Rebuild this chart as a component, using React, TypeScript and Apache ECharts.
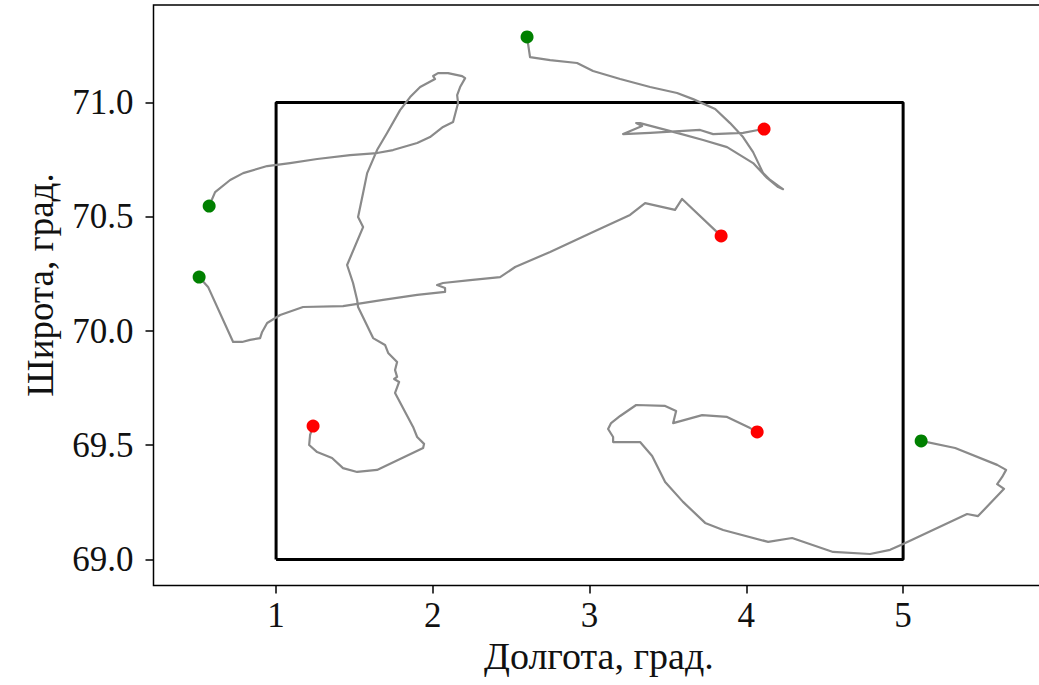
import React, { useEffect, useRef } from "react";
import * as echarts from "echarts";

// Track 1 (starts near 2.6 E, 71.29 N)
const track1Lon = [2.601, 2.620, 2.748, 2.920, 3.022, 3.195, 3.386, 3.558, 3.660, 3.801, 3.896, 3.979, 4.043, 4.107, 4.152, 4.215, 4.234, 4.203, 4.132, 4.043, 3.877, 3.724, 3.558, 3.322, 3.297, 3.335, 3.214, 3.386, 3.705, 3.788, 3.979, 4.075, 4.113];
const track1Lat = [71.287, 71.199, 71.186, 71.173, 71.138, 71.103, 71.068, 71.042, 71.015, 70.972, 70.910, 70.849, 70.783, 70.691, 70.661, 70.630, 70.621, 70.630, 70.670, 70.735, 70.805, 70.836, 70.867, 70.910, 70.910, 70.897, 70.862, 70.867, 70.880, 70.862, 70.867, 70.880, 70.884];

// Track 2 (starts near 0.57 E, 70.55 N)
const track2Lon = [0.573, 0.611, 0.707, 0.790, 0.943, 1.089, 1.262, 1.472, 1.644, 1.746, 1.900, 1.982, 2.065, 2.129, 2.161, 2.155, 2.174, 2.206, 2.187, 2.097, 2.033, 2.002, 2.014, 1.919, 1.855, 1.791, 1.708, 1.644, 1.581, 1.555, 1.523, 1.555, 1.453, 1.491, 1.517, 1.523, 1.619, 1.695, 1.715, 1.772, 1.759, 1.772, 1.753, 1.785, 1.759, 1.874, 1.900, 1.944, 1.938, 1.644, 1.517, 1.427, 1.357, 1.262, 1.211, 1.217, 1.236];
const track2Lat = [70.547, 70.608, 70.661, 70.691, 70.722, 70.735, 70.753, 70.770, 70.779, 70.792, 70.823, 70.849, 70.893, 70.915, 70.998, 71.033, 71.068, 71.107, 71.116, 71.129, 71.129, 71.116, 71.103, 71.068, 71.024, 70.967, 70.867, 70.792, 70.691, 70.604, 70.499, 70.455, 70.289, 70.210, 70.136, 70.105, 69.969, 69.939, 69.904, 69.864, 69.829, 69.799, 69.790, 69.777, 69.729, 69.580, 69.536, 69.506, 69.488, 69.392, 69.383, 69.400, 69.444, 69.470, 69.501, 69.545, 69.584];

// Track 3 (starts near 0.51 E, 70.24 N)
const track3Lon = [0.509, 0.566, 0.726, 0.783, 0.834, 0.898, 0.911, 0.943, 1.026, 1.172, 1.427, 1.683, 1.900, 2.078, 2.078, 2.027, 2.065, 2.238, 2.429, 2.525, 2.748, 3.022, 3.258, 3.354, 3.545, 3.590, 3.813, 3.839];
const track3Lat = [70.236, 70.193, 69.952, 69.952, 69.961, 69.969, 69.996, 70.035, 70.070, 70.105, 70.109, 70.136, 70.158, 70.171, 70.188, 70.201, 70.210, 70.223, 70.236, 70.280, 70.346, 70.433, 70.508, 70.560, 70.530, 70.578, 70.433, 70.416];

// Track 4 (starts near 5.12 E, 69.52 N)
const track4Lon = [5.115, 5.332, 5.600, 5.657, 5.632, 5.600, 5.644, 5.478, 5.408, 5.000, 4.917, 4.789, 4.553, 4.292, 4.139, 3.852, 3.737, 3.596, 3.482, 3.399, 3.322, 3.150, 3.150, 3.118, 3.137, 3.195, 3.297, 3.482, 3.552, 3.533, 3.718, 3.877, 4.024, 4.069];
const track4Lat = [69.519, 69.488, 69.414, 69.392, 69.361, 69.330, 69.309, 69.190, 69.199, 69.068, 69.042, 69.024, 69.033, 69.094, 69.077, 69.129, 69.160, 69.252, 69.339, 69.453, 69.514, 69.514, 69.536, 69.571, 69.597, 69.628, 69.676, 69.672, 69.650, 69.597, 69.632, 69.624, 69.575, 69.558];

// Study area rectangle
const rectLon = [1, 5, 5, 1, 1];
const rectLat = [69, 69, 71, 71, 69];

const xTicks = [1, 2, 3, 4, 5];
const yTicks = [69.0, 69.5, 70.0, 70.5, 71.0];
const xRange = [0.218, 5.9];
const yRange = [68.886, 71.427];

const xTitle = "Долгота, град.";
const yTitle = "Широта, град.";

const FONT = "'Liberation Serif', 'DejaVu Serif', serif";

export default function App() {
  const ref = useRef<HTMLDivElement>(null);
  useEffect(() => {
    if (!ref.current) return;
    const chart = echarts.init(ref.current, null, { renderer: "svg" });
    const tracks = [
      [track1Lon, track1Lat],
      [track2Lon, track2Lat],
      [track3Lon, track3Lat],
      [track4Lon, track4Lat],
    ];
    const zip = (a: number[], b: number[]) => a.map((v, i) => [v, b[i]]);
    const trackSeries = tracks.map(([lo, la]) => ({
      type: "line",
      data: zip(lo, la),
      showSymbol: false,
      symbol: "none",
      lineStyle: { color: "#8a8a8a", width: 2.2, join: "round" },
      z: 3,
      silent: true,
    }));
    const starts = tracks.map(([lo, la]) => [lo[0], la[0]]);
    const ends = tracks.map(([lo, la]) => [lo[lo.length - 1], la[la.length - 1]]);
    chart.setOption({
      animation: false,
      backgroundColor: "#ffffff",
      grid: {
        left: 153.5,
        top: 5,
        width: 890.7,
        height: 580.5,
        show: true,
        borderColor: "#000",
        borderWidth: 1.5,
        containLabel: false,
        outerBoundsMode: "none",
      },
      xAxis: {
        type: "value",
        min: xRange[0],
        max: xRange[1],
        axisLine: { show: false },
        splitLine: { show: false },
        axisTick: {
          show: true,
          customValues: xTicks,
          length: 8,
          inside: false,
          lineStyle: { color: "#000", width: 1.5 },
        },
        axisLabel: {
          customValues: xTicks,
          formatter: (v: number) => String(v),
          color: "#111",
          fontFamily: FONT,
          fontSize: 35,
          margin: 12,
        },
        name: xTitle,
        nameLocation: "middle",
        nameGap: 45,
        nameTextStyle: { color: "#111", fontFamily: FONT, fontSize: 38 },
      },
      yAxis: {
        type: "value",
        min: yRange[0],
        max: yRange[1],
        axisLine: { show: false },
        splitLine: { show: false },
        axisTick: {
          show: true,
          customValues: yTicks,
          length: 8,
          inside: false,
          lineStyle: { color: "#000", width: 1.5 },
        },
        axisLabel: {
          customValues: yTicks,
          formatter: (v: number) => v.toFixed(1),
          color: "#111",
          fontFamily: FONT,
          fontSize: 35,
          margin: 20,
        },
      },
      graphic: [
        {
          type: "text",
          x: 40,
          y: 285,
          rotation: Math.PI / 2,
          style: {
            text: yTitle,
            fill: "#111",
            font: `37px ${FONT}`,
            textAlign: "center",
            textVerticalAlign: "middle",
          },
        },
      ],
      series: [
        {
          type: "line",
          data: zip(rectLon, rectLat),
          showSymbol: false,
          symbol: "none",
          lineStyle: { color: "#000", width: 3 },
          z: 2,
          silent: true,
        },
        ...trackSeries,
        {
          type: "scatter",
          data: starts,
          symbol: "circle",
          symbolSize: 13,
          itemStyle: { color: "#008000", opacity: 1 },
          z: 5,
          silent: true,
        },
        {
          type: "scatter",
          data: ends,
          symbol: "circle",
          symbolSize: 13,
          itemStyle: { color: "#ff0000", opacity: 1 },
          z: 5,
          silent: true,
        },
      ],
    });
    return () => chart.dispose();
  }, []);
  return (
    <div style={{ position: "absolute", left: 0, top: 0, width: 1039, height: 685, overflow: "hidden", background: "#fff" }}>
      <div ref={ref} style={{ width: 1039, height: 685 }} />
    </div>
  );
}
